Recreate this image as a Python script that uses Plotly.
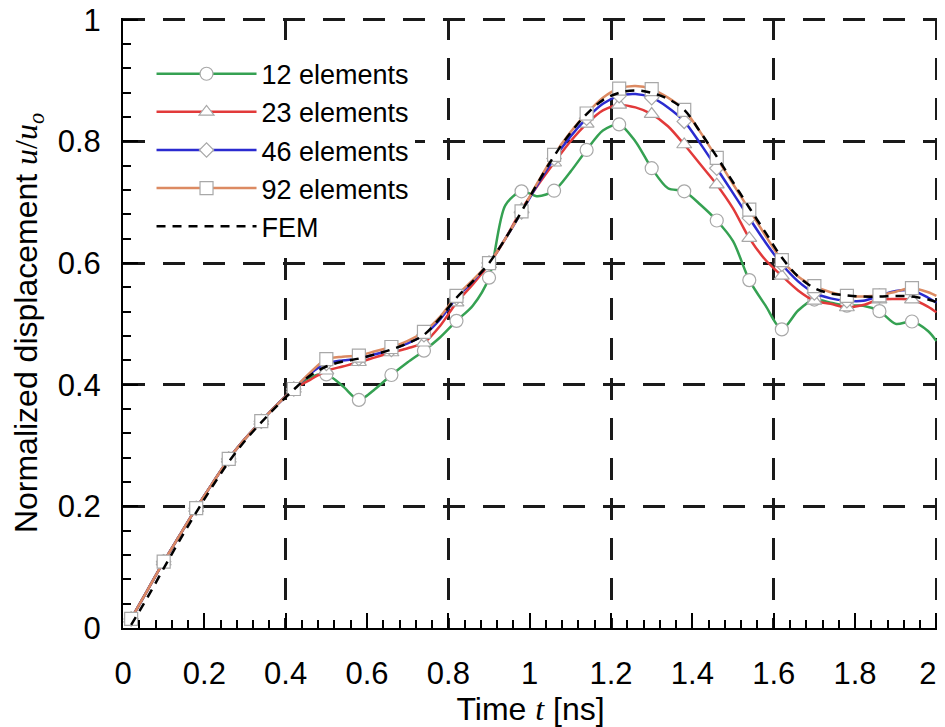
import plotly.graph_objects as go

# ---- data ----
t = [0.02, 0.06, 0.10, 0.14, 0.18, 0.22, 0.26, 0.30, 0.34, 0.38, 0.42, 0.46,
     0.50, 0.54, 0.58, 0.62, 0.66, 0.70, 0.74, 0.78, 0.82, 0.86, 0.90, 0.94,
     0.98, 1.02, 1.06, 1.10, 1.14, 1.18, 1.22, 1.26, 1.30, 1.34, 1.38, 1.42,
     1.46, 1.50, 1.54, 1.58, 1.62, 1.66, 1.70, 1.74, 1.78, 1.82, 1.86, 1.90,
     1.94, 1.98, 2.00]

early = [0.015, 0.062, 0.109, 0.153, 0.197, 0.238, 0.278, 0.311, 0.340, 0.368, 0.393]

u12 = early + [0.412, 0.417, 0.398, 0.375, 0.393, 0.416, 0.437, 0.456, 0.478,
               0.505, 0.530, 0.576, 0.695, 0.718, 0.710, 0.719, 0.750, 0.786,
               0.818, 0.828, 0.800, 0.756, 0.723, 0.718, 0.696, 0.670, 0.636,
               0.572, 0.530, 0.491, 0.522, 0.540, 0.535, 0.530, 0.530, 0.521,
               0.500, 0.504, 0.488, 0.472]

u23 = early + [0.408, 0.423, 0.430, 0.437, 0.445, 0.453, 0.460, 0.469, 0.497,
               0.535, 0.565, 0.598, 0.640, 0.688, 0.728, 0.765, 0.800, 0.829,
               0.851, 0.860, 0.856, 0.845, 0.825, 0.795, 0.762, 0.729, 0.690,
               0.641, 0.605, 0.579, 0.555, 0.538, 0.533, 0.527, 0.531, 0.540,
               0.541, 0.540, 0.528, 0.519]

u46 = early + [0.418, 0.435, 0.440, 0.443, 0.450, 0.458, 0.468, 0.482, 0.508,
               0.543, 0.570, 0.600, 0.640, 0.684, 0.730, 0.772, 0.808, 0.838,
               0.862, 0.875, 0.878, 0.872, 0.856, 0.833, 0.796, 0.756, 0.715,
               0.674, 0.634, 0.598, 0.570, 0.551, 0.542, 0.538, 0.538, 0.546,
               0.554, 0.555, 0.543, 0.535]

u92 = early + [0.420, 0.442, 0.446, 0.448, 0.455, 0.462, 0.472, 0.487, 0.512,
               0.546, 0.572, 0.600, 0.640, 0.685, 0.733, 0.778, 0.815, 0.846,
               0.872, 0.887, 0.891, 0.886, 0.872, 0.852, 0.815, 0.773, 0.730,
               0.688, 0.645, 0.605, 0.578, 0.562, 0.552, 0.546, 0.545, 0.547,
               0.553, 0.559, 0.552, 0.546]

fem = [0.005, 0.050, 0.098, 0.145, 0.190, 0.233, 0.273, 0.308, 0.338, 0.366,
       0.392, 0.415, 0.430, 0.438, 0.443, 0.450, 0.458, 0.468, 0.482, 0.510,
       0.543, 0.570, 0.600, 0.640, 0.685, 0.732, 0.776, 0.814, 0.845, 0.868,
       0.880, 0.884, 0.880, 0.870, 0.852, 0.815, 0.775, 0.733, 0.691, 0.650,
       0.609, 0.578, 0.559, 0.550, 0.547, 0.545, 0.545, 0.546, 0.545, 0.540,
       0.536]

x_ticks = [0, 0.2, 0.4, 0.6, 0.8, 1, 1.2, 1.4, 1.6, 1.8, 2]
# last label padded with non-breaking spaces so it stays inside the page edge
x_tick_text = ["0", "0.2", "0.4", "0.6", "0.8", "1", "1.2", "1.4", "1.6", "1.8", "2\u00a0\u00a0"]
x_grid = [0.4, 0.8, 1.2, 1.6, 2.0]
y_ticks = [0, 0.2, 0.4, 0.6, 0.8, 1]
y_tick_text = ["0", "0.2", "0.4", "0.6", "0.8", "1"]

series = [
    ("12 elements", u12, "#35a152", "circle", 13),
    ("23 elements", u23, "#e23a3a", "triangle-up", 13),
    ("46 elements", u46, "#2b2bd0", "diamond", 11),
    ("92 elements", u92, "#dc8a62", "square", 13),
]

# markers only every other sample (every 0.08 ns)
is_marker = [(i % 2 == 0) and (tt < 1.96) for i, tt in enumerate(t)]
fill_col = ["white" if m else "rgba(0,0,0,0)" for m in is_marker]
edge_col = ["#a8a8a8" if m else "rgba(0,0,0,0)" for m in is_marker]

FONT = "Liberation Sans, Arial, sans-serif"
SERIF = "Liberation Serif"
GRID = dict(showgrid=True, gridcolor="#1a1a1a", gridwidth=2.5, griddash="22px,18px")
XR = [0, 2.004]
YR = [0, 1.003]

fig = go.Figure()
for name, vals, col, sym, sz in series:
    fig.add_trace(go.Scatter(
        x=t, y=vals, name=name, mode="lines+markers",
        line=dict(color=col, width=2.5, shape="spline", smoothing=0.8),
        marker=dict(symbol=sym, size=sz, color=fill_col,
                    line=dict(color=edge_col, width=1.2)),
        cliponaxis=False,
    ))

fig.add_trace(go.Scatter(
    x=t, y=fem, name="FEM", mode="lines", xaxis="x2",
    line=dict(color="black", width=2.5, dash="9px,7px", shape="spline"),
))

# the page body adds an 8px margin, so the figure is 8px smaller each way
fig.update_layout(
    width=937, height=719,
    margin=dict(l=115, r=7, t=10, b=99),
    paper_bgcolor="white", plot_bgcolor="white",
    font=dict(family=FONT, size=31, color="black"),
    showlegend=True,
    legend=dict(
        x=0.035, y=0.948, xanchor="left", yanchor="top",
        bgcolor="white", borderwidth=0,
        font=dict(family=FONT, size=27, color="black"),
        itemwidth=100, tracegroupgap=0,
    ),
    xaxis=dict(
        range=XR, tickvals=x_ticks, ticktext=x_tick_text,
        showgrid=False, zeroline=False, automargin=False,
        showline=True, linecolor="black", linewidth=2,
        ticks="inside", ticklen=15, tickwidth=2, tickcolor="black",
        minor=dict(dtick=0.04, tick0=0, ticks="inside", ticklen=8, tickwidth=2,
                   tickcolor="black", showgrid=False),
        ticklabelstandoff=17, ticklabeloverflow="allow",
        tickfont=dict(family=FONT, size=31),
        title=dict(text=f"Time <span style='font-family:{SERIF}'><i>t</i></span> [ns]",
                   font=dict(family=FONT, size=32), standoff=9),
    ),
    xaxis2=dict(
        range=XR, overlaying="x", anchor="y", tickvals=x_grid,
        showticklabels=False, ticks="", zeroline=False, showline=False,
        automargin=False, **GRID,
    ),
    yaxis=dict(
        range=YR, tickvals=y_ticks, ticktext=y_tick_text,
        zeroline=False, automargin=False,
        showline=True, linecolor="black", linewidth=2,
        ticks="inside", ticklen=15, tickwidth=2, tickcolor="black",
        minor=dict(dtick=0.04, tick0=0, ticks="inside", ticklen=8, tickwidth=2,
                   tickcolor="black", showgrid=False),
        ticklabelstandoff=14, ticklabeloverflow="allow",
        tickfont=dict(family=FONT, size=31),
        title=dict(text=f"Normalized displacement <span style='font-family:{SERIF}'><i>u</i>/<i>u</i><sub><i>o</i></sub></span>",
                   font=dict(family=FONT, size=32), standoff=16),
        **GRID,
    ),
)

fig.write_html("out.html")
